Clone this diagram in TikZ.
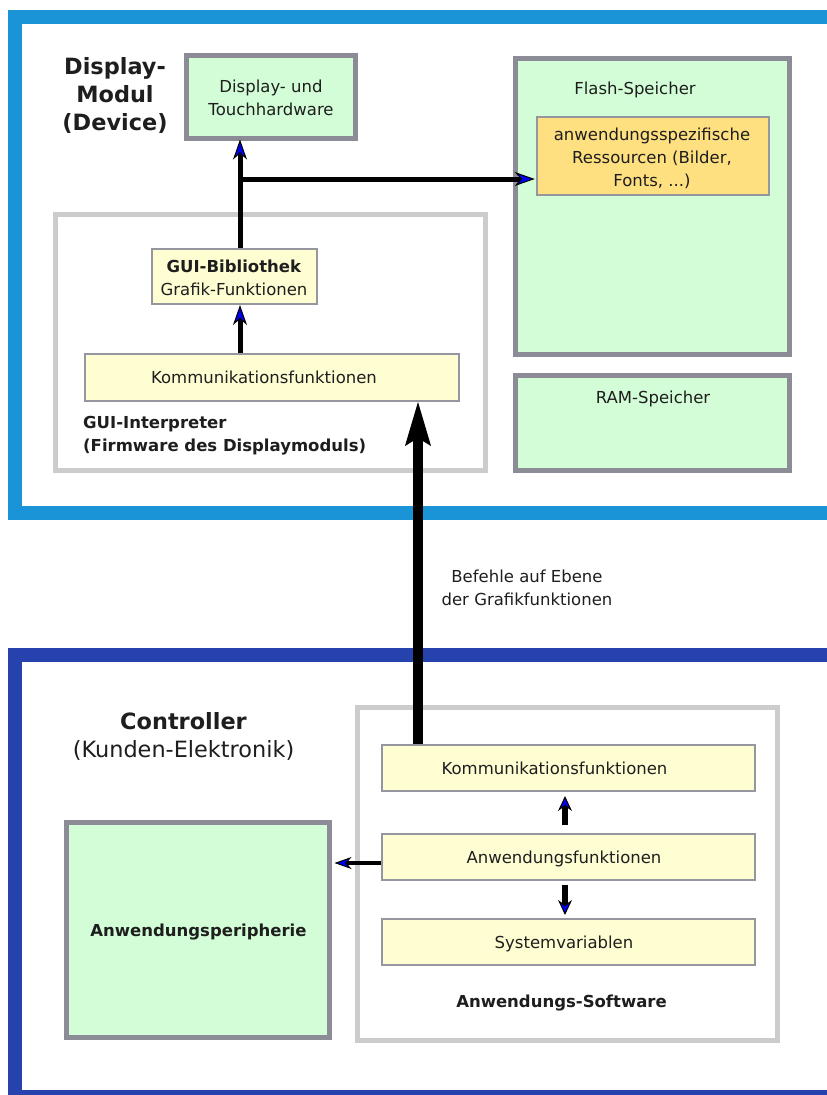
\documentclass[tikz,border=0pt]{standalone}
\usepackage{fontspec}
\setmainfont{DejaVu Sans}
\usetikzlibrary{arrows.meta}
\definecolor{topblue}{RGB}{27,147,215}
\definecolor{botblue}{RGB}{38,67,173}
\definecolor{gfill}{RGB}{210,253,214}
\definecolor{gline}{RGB}{140,140,150}
\definecolor{yfill}{RGB}{255,253,210}
\definecolor{yline}{RGB}{150,150,160}
\definecolor{ofill}{RGB}{255,224,128}
\definecolor{cline}{RGB}{204,204,204}
\definecolor{txtc}{RGB}{30,30,30}
\definecolor{tipblue}{RGB}{0,0,240}
\tikzset{
  frame/.style={draw, line width=14pt},
  greenbox/.style={draw=gline, fill=gfill, line width=5pt, inner sep=0pt},
  yellowbox/.style={draw=yline, fill=yfill, line width=2pt, inner sep=0pt},
  orangebox/.style={draw=yline, fill=ofill, line width=2.5pt, inner sep=0pt},
  container/.style={draw=cline, line width=5pt, inner sep=0pt},
  txt/.style={text=txtc, font=\fontsize{16.5}{23}\selectfont, align=center, inner sep=0pt},
  btxt/.style={text=txtc, font=\bfseries\fontsize{16.5}{23}\selectfont, align=center, inner sep=0pt},
  bigtxt/.style={text=txtc, font=\fontsize{22.4}{28}\selectfont, align=center, inner sep=0pt},
  bigbtxt/.style={text=txtc, font=\bfseries\fontsize{22.4}{28}\selectfont, align=center, inner sep=0pt},
  toparrow/.style={draw=black, line width=5pt, -{Stealth[length=20pt,width=14pt,inset=6pt,fill=tipblue,line width=1pt]}},
  botarrow/.style={draw=black, line width=6pt, -{Stealth[length=15pt,width=14pt,inset=5pt,fill=tipblue,line width=1pt]}},
  leftarrow/.style={draw=black, line width=4pt, -{Stealth[length=17pt,width=12pt,inset=5pt,fill=tipblue,line width=1pt]}},
  bigarrow/.style={draw=black, line width=10pt, -{Stealth[length=44pt,width=26pt,inset=8pt,fill=black,line width=1pt]}},
}
\begin{document}
\begin{tikzpicture}[x=1pt,y=-1pt]
\useasboundingbox (0,0) rectangle (827,1095);
\clip (0,0) rectangle (827,1095);
\fill[white] (0,0) rectangle (827,1095);
% frames
\draw[frame, draw=topblue] (15,17) rectangle (835,512.5);
\draw[frame, draw=botblue] (15,654.5) rectangle (835,1097);

% ---- Display module ----
\node[bigbtxt] (dmlabel) at (115,95) {Display-\\Modul\\(Device)};
\node[greenbox, minimum width=169pt, minimum height=83pt] (disp) at (271,97) {};
\node[txt] (dispt) at (271,98) {Display- und\\Touchhardware};

\node[greenbox, minimum width=274pt, minimum height=296pt] (flash) at (652.5,206.5) {};
\node[txt, anchor=base] (flasht) at (635,94) {Flash-Speicher};
\node[orangebox, minimum width=232pt, minimum height=78pt] (res) at (653,156) {};
\node[txt] (rest) at (652,158) {anwendungsspezifische\\Ressourcen (Bilder,\\Fonts, ...)};

\node[greenbox, minimum width=274pt, minimum height=95pt] (ram) at (652.5,423) {};
\node[txt, anchor=base] (ramt) at (653,403) {RAM-Speicher};

\node[container, minimum width=430pt, minimum height=256pt] (gui) at (270.5,342.5) {};
\node[yellowbox, minimum width=165pt, minimum height=55pt] (guilib) at (234.5,276.5) {};
\node[txt] (guilibt) at (234,278) {\textbf{GUI-Bibliothek}\\Grafik-Funktionen};
\node[yellowbox, minimum width=374pt, minimum height=47pt] (komm1) at (272,377.5) {};
\node[txt, anchor=base] (komm1t) at (264,383) {Kommunikationsfunktionen};
\node[btxt, align=left, anchor=north west] (guit) at (83,416) {GUI-Interpreter\\(Firmware des Displaymoduls)};

% ---- middle label ----
\node[txt] (befehle) at (527,588) {Befehle auf Ebene\\der Grafikfunktionen};

% ---- Controller ----
\node[bigbtxt, anchor=base] (ctrl) at (183.5,729) {Controller};
\node[bigtxt, anchor=base] (ctrl2) at (183.5,757) {(Kunden-Elektronik)};

\node[greenbox, minimum width=263pt, minimum height=215pt] (peri) at (198,930) {};
\node[btxt, anchor=base] (perit) at (198.5,936) {Anwendungsperipherie};

\node[container, minimum width=420pt, minimum height=333pt] (sw) at (567.5,874) {};
\node[yellowbox, minimum width=373pt, minimum height=46pt] (komm2) at (568.5,768) {};
\node[txt, anchor=base] (komm2t) at (554.5,774) {Kommunikationsfunktionen};
\node[yellowbox, minimum width=373pt, minimum height=46pt] (anwf) at (568.5,857) {};
\node[txt, anchor=base] (anwft) at (564,863) {Anwendungsfunktionen};
\node[yellowbox, minimum width=373pt, minimum height=46pt] (sysv) at (568.5,942) {};
\node[txt, anchor=base] (sysvt) at (564,948) {Systemvariablen};
\node[btxt, anchor=base] (swt) at (561.5,1007) {Anwendungs-Software};

% ---- connectors ----
\coordinate (j) at (240,179);
\coordinate (bx) at (418,0);
\coordinate (vx) at (565,0);
\coordinate (ay) at (0,863);
\draw[toparrow] (guilib.north -| j) -- ([yshift=1.5pt]disp.south -| j);
\draw[toparrow] (j) -- ([xshift=-1pt]j -| res.west);
\draw[toparrow] (komm1.north -| j) -- (guilib.south -| j);
\draw[bigarrow] (komm2.north -| bx) -- (komm1.south -| bx);
\draw[botarrow, shorten <=8pt, shorten >=4pt] (anwf.north -| vx) -- (komm2.south -| vx);
\draw[botarrow, shorten <=4pt, shorten >=3pt] (anwf.south -| vx) -- (sysv.north -| vx);
\draw[leftarrow] (anwf.west |- ay) -- ([xshift=2.5pt]peri.east |- ay);
\end{tikzpicture}
\end{document}
